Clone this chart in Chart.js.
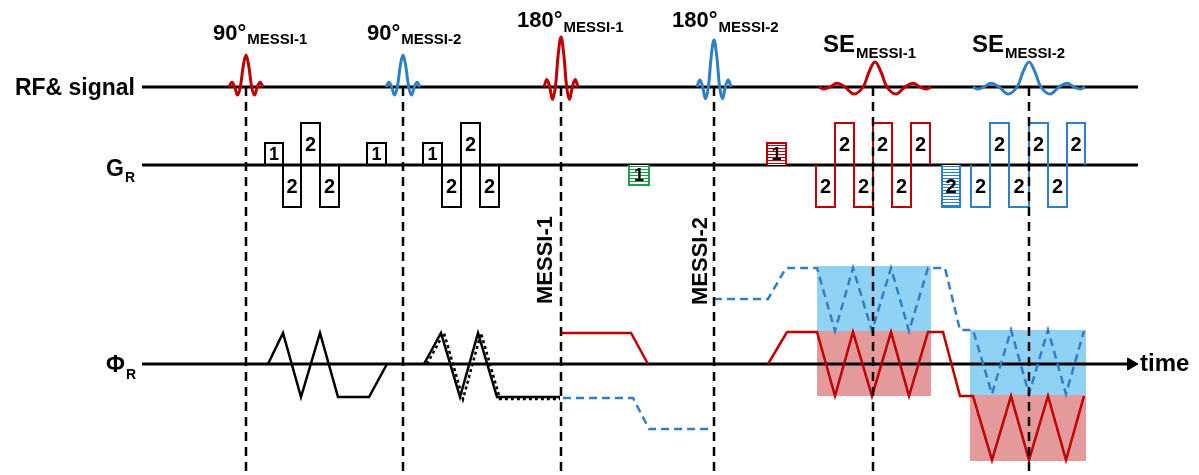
<!DOCTYPE html>
<html>
<head>
    <meta charset="utf-8">
    <title>MESSI sequence</title>
    <style>
        body { margin: 0; background: #fff; }
        .chart-box { width: 1199px; height: 475px; }
    </style>
</head>
<body>
    <div class="chart-box"><canvas id="seq-chart"></canvas></div>

    <script src="https://cdn.jsdelivr.net/npm/chart.js@4.4.1/dist/chart.umd.min.js"></script>
    <script>
        // ---- data: time in arbitrary units, amplitudes in channel units ----
        // RF pulses (90° M1, 90° M2, 180° M1, 180° M2)
        const rfCentres = [246, 403, 561, 714];
        const rfPeaks = [32, 32, 50, 47];
        const rfShape = [0, 0.15, 0, -0.25, 0, 0.64, 1, 0.64, 0, -0.25, 0, 0.15, 0];

        // spin echoes
        const echoCentres = [875, 1029];
        const echoPeaks = [25, 25];
        const echoShape = [[-56, 0], [-51, -0.08], [-45, 0], [-38, 0.15], [-30, 0], [-21, -0.28], [-12, 0], [-6, 0.6], [0, 1],
            [6, 0.6], [12, 0], [21, -0.28], [30, 0], [38, 0.15], [45, 0], [51, -0.08], [56, 0]];

        // readout gradient lobes: [start, end, amplitude, label]
        const gradBlack = [[265, 283, 22, '1'], [283, 301, -42, '2'], [301, 320, 42, '2'], [320, 339, -42, '2'],
            [367, 386, 22, '1'], [423, 442, 22, '1'], [442, 461, -42, '2'], [461, 480, 42, '2'], [480, 499, -42, '2']];
        const gradGreenHatch = [[629, 649, -20, '1']];
        const gradRedHatch = [[767, 786, 22, '1']];
        const gradRed = [[816, 835, -42, '2'], [835, 854, 42, '2'], [854, 873, -42, '2'], [873, 892, 42, '2'],
            [892, 911, -42, '2'], [911, 930, 42, '2']];
        const gradBlueHatch = [[942, 960, -42, '2']];
        const gradBlue = [[971, 990, -42, '2'], [990, 1009, 42, '2'], [1009, 1029, -42, '2'], [1029, 1048, 42, '2'],
            [1048, 1067, -42, '2'], [1067, 1085, 42, '2']];

        // readout phase trajectories: [time, phase]
        const phiBlack1 = [[268, 0], [283, 31], [301, -33], [320, 31], [338, -33], [369, -33], [387, 0]];
        const phiBlack2 = [[424, 0], [441, 31], [460, -33], [478, 31], [497, -33], [560, -33]];
        const phiBlack2Dots = [[427, 0], [444, 31], [463, -35], [481, 31], [500, -35], [560, -35]];
        const phiRed1 = [[561, 31], [631, 31], [648, 0]];
        const phiBlue1 = [[563, -34], [633, -34], [649, -65], [713, -65]];
        const phiBlue2 = [[714, 65], [768, 65], [786, 96], [817, 96], [835, 33], [853, 96], [872, 33], [891, 96], [909, 33],
            [928, 96], [945, 96], [960, 34], [973, 34], [992, -30], [1011, 34], [1029, -30], [1048, 34], [1066, -30], [1084, 33]];
        const phiRed2 = [[768, 0], [787, 32], [817, 32], [835, -32], [853, 32], [872, -32], [891, 32], [909, -32], [928, 32],
            [943, 32], [960, -32], [973, -32], [992, -96], [1011, -32], [1029, -96], [1048, -32], [1066, -96], [1084, -32]];

        // acquisition windows: [start, end, top, bottom]
        const boxBlue = [[817, 931, 98, 33], [970, 1086, 34, -31]];
        const boxRed = [[817, 931, 33, -32], [970, 1086, -31, -97]];

        // event times (dashed markers)
        const markerTimes = [246, 403, 561, 714, 873, 1029];

        // labels
        const pulseTitles = ['90°', '90°', '180°', '180°', 'SE', 'SE'];
        const pulseSubs = ['MESSI-1', 'MESSI-2', 'MESSI-1', 'MESSI-2', 'MESSI-1', 'MESSI-2'];

        // ---- layout / styles ----
        const BASE = { rf: 388, gr: 310, phi: 111 };
        const AXIS_START = 142, AXIS_END = 1138;
        const RF_HALF = 17;
        const RED = '#c00000', BLUE = '#2e7fc5', GREEN = '#1f9e4e';
        const FONT = '"Liberation Sans", Arial, sans-serif';

        const titleLeft = [213, 367, 517, 672, 823, 972];
        const titleBase = [435, 435, 448, 448, 423, 423];
        const titleSize = [22, 22, 22, 22, 24, 24];
        const titleSubDy = [4, 4, 5, 5, 6, 6];

        function hatch(color) {
            const c = document.createElement('canvas');
            c.width = 4; c.height = 3;
            const g = c.getContext('2d');
            g.fillStyle = '#fff';
            g.fillRect(0, 0, 4, 3);
            g.fillStyle = color;
            g.fillRect(0, 1, 4, 1);
            return g.createPattern(c, 'repeat');
        }

        const datasets = [];
        const lobeLabels = [];

        function addLine(points, base, style, order) {
            datasets.push(Object.assign({
                data: points.map(p => ({ x: p[0], y: base + p[1] })),
                showLine: true, pointRadius: 0, borderWidth: 2.5, tension: 0, fill: false, order: order
            }, style));
        }

        // acquisition boxes (behind everything)
        function addBoxes(list, colour) {
            list.forEach(b => {
                datasets.push({
                    data: [{ x: b[0], y: BASE.phi + b[2] }, { x: b[1], y: BASE.phi + b[2] }],
                    showLine: true, pointRadius: 0, borderWidth: 0, borderColor: 'rgba(0,0,0,0)',
                    fill: { value: BASE.phi + b[3] }, backgroundColor: colour, order: 100
                });
            });
        }
        addBoxes(boxBlue, '#8fd2f3');
        addBoxes(boxRed, '#e49a9a');

        // channel axes
        addLine([[AXIS_START, 0], [AXIS_END, 0]], BASE.rf, { borderColor: '#000', borderWidth: 3 }, 60);
        addLine([[AXIS_START, 0], [AXIS_END, 0]], BASE.gr, { borderColor: '#000', borderWidth: 3 }, 60);
        addLine([[AXIS_START, 0], [1128, 0]], BASE.phi, { borderColor: '#000', borderWidth: 3 }, 60);
        datasets.push({
            data: [{ x: 1131, y: BASE.phi }], pointStyle: 'triangle', rotation: 90, pointRadius: 7,
            backgroundColor: '#000', borderColor: '#000', borderWidth: 1, showLine: false, order: 1
        });

        // RF pulses
        const rfColours = [RED, BLUE, RED, BLUE];
        rfCentres.forEach((c, i) => {
            const step = RF_HALF / 6;
            const pts = rfShape.map((a, k) => [c + (k - 6) * step, a * rfPeaks[i]]);
            addLine(pts, BASE.rf, { borderColor: rfColours[i], borderWidth: 3, tension: 0.4 }, 20);
        });

        // echoes
        const echoColours = [RED, BLUE];
        echoCentres.forEach((c, i) => {
            const pts = echoShape.map(([d, a]) => [c + d, a * echoPeaks[i]]);
            addLine(pts, BASE.rf, { borderColor: echoColours[i], borderWidth: 3, tension: 0.4 }, 20);
        });

        // gradient lobes
        function addLobes(list, colour, pattern) {
            list.forEach(([s, e, a, lbl]) => {
                const style = { borderColor: colour, borderWidth: 2 };
                if (pattern) {
                    style.fill = { value: BASE.gr };
                    style.backgroundColor = pattern;
                }
                addLine([[s, 0], [s, a], [e, a], [e, 0]], BASE.gr, style, 20);
                lobeLabels.push({ x: (s + e) / 2, y: BASE.gr + a / 2, text: lbl });
            });
        }
        addLobes(gradBlack, '#000');
        addLobes(gradGreenHatch, GREEN, hatch(GREEN));
        addLobes(gradRedHatch, RED, hatch(RED));
        addLobes(gradRed, RED);
        addLobes(gradBlueHatch, BLUE, hatch(BLUE));
        addLobes(gradBlue, BLUE);

        // phase trajectories
        addLine(phiBlack1, BASE.phi, { borderColor: '#000' }, 20);
        addLine(phiBlack2, BASE.phi, { borderColor: '#000' }, 20);
        addLine(phiBlack2Dots, BASE.phi, { borderColor: '#000', borderDash: [3, 3] }, 19);
        addLine(phiRed1, BASE.phi, { borderColor: RED }, 20);
        addLine(phiBlue1, BASE.phi, { borderColor: BLUE, borderDash: [8, 5] }, 20);
        addLine(phiBlue2, BASE.phi, { borderColor: BLUE, borderDash: [8, 5] }, 20);
        addLine(phiRed2, BASE.phi, { borderColor: RED }, 20);

        // dashed event markers
        markerTimes.forEach(t => {
            addLine([[t, 0], [t, -384]], BASE.rf, { borderColor: '#000', borderWidth: 2.5, borderDash: [9, 6] }, 5);
        });

        // text
        function drawSubLabel(ctx, px, py, main, sub, size, subSize, dy) {
            ctx.font = 'bold ' + size + 'px ' + FONT;
            ctx.textAlign = 'left';
            ctx.textBaseline = 'alphabetic';
            ctx.fillText(main, px, py);
            const w = ctx.measureText(main).width;
            ctx.font = 'bold ' + subSize + 'px ' + FONT;
            ctx.fillText(sub, px + w + 1, py + dy);
        }

        const textPlugin = {
            id: 'seqText',
            afterDatasetsDraw(chart) {
                const { ctx, scales: { x, y } } = chart;
                ctx.save();
                ctx.fillStyle = '#000';

                // lobe numbers
                ctx.textAlign = 'center';
                ctx.textBaseline = 'middle';
                lobeLabels.forEach(l => {
                    ctx.font = 'bold ' + (l.text === '1' ? 18 : 20) + 'px ' + FONT;
                    ctx.fillText(l.text, x.getPixelForValue(l.x), y.getPixelForValue(l.y) + 1);
                });

                // pulse titles
                pulseTitles.forEach((t, i) => {
                    drawSubLabel(ctx, x.getPixelForValue(titleLeft[i]), y.getPixelForValue(titleBase[i]),
                        t, pulseSubs[i], titleSize[i], 15, titleSubDy[i]);
                });

                // channel names
                ctx.font = 'bold 23px ' + FONT;
                ctx.textAlign = 'right';
                ctx.textBaseline = 'alphabetic';
                ctx.fillText('RF& signal', x.getPixelForValue(135), y.getPixelForValue(380));
                drawSubLabel(ctx, x.getPixelForValue(106), y.getPixelForValue(299), 'G', 'R', 23, 14, 6);
                drawSubLabel(ctx, x.getPixelForValue(106), y.getPixelForValue(103), 'Φ', 'R', 23, 14, 7);

                // time label
                ctx.font = 'bold 24px ' + FONT;
                ctx.textAlign = 'left';
                ctx.textBaseline = 'middle';
                ctx.fillText('time', x.getPixelForValue(1140), y.getPixelForValue(111));

                // rotated sequence names
                [['MESSI-1', 546, 215], ['MESSI-2', 701, 214]].forEach(([t, tx, ty]) => {
                    ctx.save();
                    ctx.translate(x.getPixelForValue(tx), y.getPixelForValue(ty));
                    ctx.rotate(-Math.PI / 2);
                    ctx.font = 'bold 22px ' + FONT;
                    ctx.textAlign = 'center';
                    ctx.textBaseline = 'middle';
                    ctx.fillText(t, 0, 0);
                    ctx.restore();
                });
                ctx.restore();
            }
        };

        new Chart(document.getElementById('seq-chart'), {
            type: 'scatter',
            data: { datasets: datasets },
            options: {
                responsive: true,
                maintainAspectRatio: false,
                animation: false,
                layout: { padding: 0, autoPadding: false },
                scales: {
                    x: { type: 'linear', min: 0, max: 1199, display: false },
                    y: { type: 'linear', min: 0, max: 475, display: false }
                },
                plugins: {
                    legend: { display: false },
                    tooltip: { enabled: false }
                }
            },
            plugins: [textPlugin]
        });
    </script>
</body>
</html>
